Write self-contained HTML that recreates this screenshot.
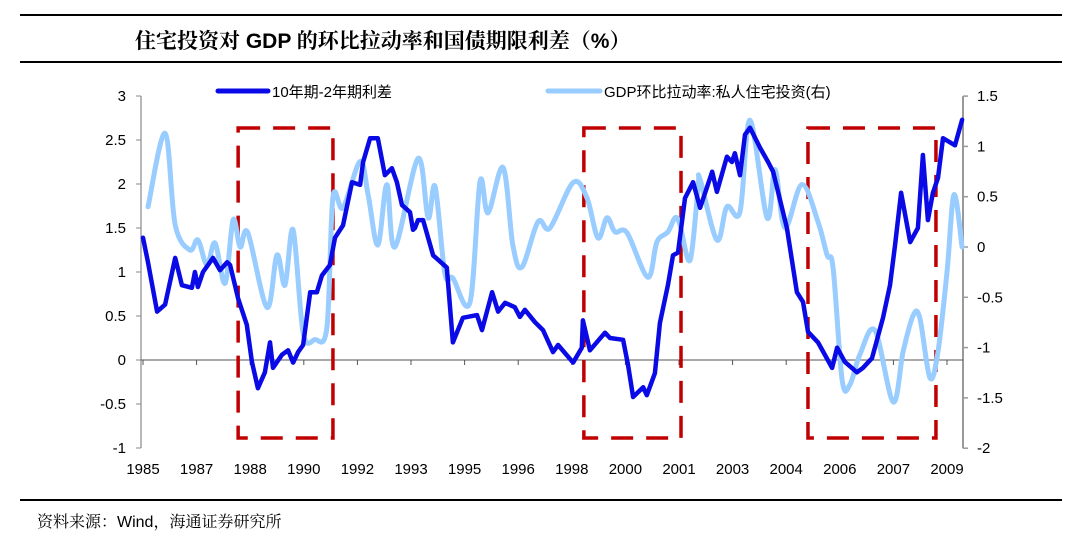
<!DOCTYPE html>
<html><head><meta charset="utf-8">
<style>
body{margin:0;background:#fff;width:1080px;height:545px;overflow:hidden;}
svg{display:block;font-family:"Liberation Sans","Noto Sans CJK SC",sans-serif;}
</style></head>
<body>
<svg id="chart" width="1080" height="545">
  <line x1="20" y1="15" x2="1062" y2="15" stroke="#000" stroke-width="2"/>
  <text x="135" y="48" font-size="21" font-weight="bold" style="font-family:'Liberation Sans','Noto Serif CJK SC',serif">住宅投资对 GDP 的环比拉动率和国债期限利差（%）</text>
  <line x1="20" y1="62" x2="1062" y2="62" stroke="#000" stroke-width="2"/>
  <line x1="20" y1="500" x2="1062" y2="500" stroke="#000" stroke-width="2"/>
  <text x="37" y="527" font-size="16" style="font-family:'Liberation Sans','Noto Serif CJK SC',serif">资料来源：Wind，海通证券研究所</text>
  <g id="axes"></g>
  <g id="boxes"></g>
  <g id="series"></g>
  <g id="legend"></g>
</svg>
<script>
const xTickLabels = ["1985","1987","1988","1990","1992","1993","1995","1996","1998","2000","2001","2003","2004","2006","2007","2009"];
const leftTicks = [3,2.5,2,1.5,1,0.5,0,-0.5,-1];
const rightTicks = [1.5,1,0.5,0,-0.5,-1,-1.5,-2];
const spreadT = [1985,1985.15,1985.42,1985.66,1985.96,1986.16,1986.46,1986.55,1986.64,1986.79,1987.09,1987.30,1987.51,1987.60,1987.84,1988.10,1988.25,1988.43,1988.64,1988.79,1988.88,1989.15,1989.33,1989.48,1989.63,1989.78,1989.99,1990.19,1990.34,1990.58,1990.73,1990.97,1991.24,1991.48,1991.57,1991.78,1992.01,1992.22,1992.43,1992.58,1992.73,1992.97,1993.06,1993.12,1993.21,1993.36,1993.66,1994.07,1994.25,1994.55,1994.97,1995.12,1995.42,1995.60,1995.81,1996.10,1996.25,1996.40,1996.70,1996.94,1997.24,1997.39,1997.84,1998.10,1998.13,1998.34,1998.79,1998.94,1999.33,1999.48,1999.63,1999.93,2000.04,2000.28,2000.43,2000.67,2000.82,2000.97,2001.18,2001.42,2001.63,2001.99,2002.13,2002.43,2002.58,2002.67,2002.82,2002.97,2003.12,2003.42,2003.66,2003.81,2004.22,2004.52,2004.70,2004.85,2005.15,2005.57,2005.72,2005.95,2006.31,2006.49,2006.76,2007.09,2007.30,2007.45,2007.63,2007.90,2008.13,2008.28,2008.43,2008.58,2008.73,2008.88,2009.24,2009.45];
const spreadV = [1.39,1.11,0.55,0.63,1.16,0.85,0.82,1.0,0.83,1.0,1.16,1.02,1.11,1.08,0.7,0.4,-0.02,-0.32,-0.14,0.2,-0.09,0.06,0.11,-0.03,0.09,0.17,0.77,0.77,0.96,1.08,1.39,1.53,2.02,1.99,2.25,2.52,2.52,2.1,2.18,2.02,1.76,1.68,1.48,1.5,1.59,1.59,1.19,1.05,0.2,0.48,0.51,0.34,0.77,0.55,0.65,0.6,0.49,0.57,0.43,0.34,0.09,0.17,-0.03,0.14,0.45,0.11,0.31,0.25,0.23,-0.06,-0.42,-0.31,-0.4,-0.15,0.42,0.85,1.19,1.22,1.84,2.02,1.73,2.14,1.91,2.31,2.25,2.35,2.1,2.56,2.64,2.41,2.25,2.14,1.5,0.77,0.66,0.32,0.2,-0.09,0.14,-0.02,-0.14,-0.09,0.02,0.48,0.85,1.31,1.9,1.34,1.5,2.33,1.59,1.9,2.07,2.52,2.44,2.73];
const gdpT = [1985.15,1985.66,1985.96,1986.40,1986.64,1986.91,1987.15,1987.45,1987.69,1987.90,1988.13,1988.70,1989.00,1989.24,1989.48,1989.78,1990.13,1990.49,1990.67,1990.97,1991.48,1991.72,1992.01,1992.28,1992.52,1993.21,1993.51,1993.72,1994.01,1994.25,1994.76,1995.06,1995.30,1995.75,1996.04,1996.31,1996.79,1997.15,1997.84,1998.25,1998.58,1998.85,1999.09,1999.45,2000.07,2000.34,2000.67,2000.88,2001.03,2001.33,2001.57,2001.63,2002.13,2002.43,2002.82,2003.12,2003.63,2003.87,2004.16,2004.67,2005.15,2005.42,2005.60,2005.87,2006.10,2006.40,2006.85,2007.39,2007.69,2007.99,2008.19,2008.49,2008.73,2009.00,2009.21,2009.45];
const gdpV = [0.40,1.13,0.22,-0.03,0.07,-0.18,0.04,-0.36,0.27,0,0.14,-0.6,-0.08,-0.38,0.17,-0.85,-0.92,-0.8,0.49,0.39,0.85,0.52,0.02,0.62,0,0.88,0.29,0.6,-0.26,-0.31,-0.55,0.65,0.34,0.79,0.02,-0.2,0.25,0.19,0.64,0.49,0.09,0.29,0.15,0.14,-0.3,0.05,0.15,0.29,0.22,-0.13,0.59,0.67,0.07,0.4,0.35,1.26,0.29,0.77,0.19,0.62,0.25,-0.08,-0.21,-1.32,-1.37,-1.07,-0.83,-1.54,-1.04,-0.68,-0.71,-1.3,-1.04,-0.25,0.52,0];
const boxYears = [[1987.84,1990.67],[1998.16,2001.06],[2004.85,2008.67]];

const NS="http://www.w3.org/2000/svg";
const X0=143, XSTEP=53.6;
function xS(t){return X0+(t-1985)/1.6*XSTEP;}
function yL(v){return 360-88*v;}
function yR(v){return 247-100.6*v;}
function mk(tag,attrs,parent){const e=document.createElementNS(NS,tag);for(const k in attrs)e.setAttribute(k,attrs[k]);parent.appendChild(e);return e;}

const axes=document.getElementById('axes');
let la=mk('line',{x1:141,y1:yL(3),x2:141,y2:yL(-1),stroke:'#888','stroke-width':1.2},axes);


leftTicks.forEach(v=>{
  let t=mk('line',{x1:136,y1:yL(v),x2:141,y2:yL(v),stroke:'#888','stroke-width':1},axes);
  
  
  let l=mk('text',{x:126,y:yL(v)+5,'font-size':15,'text-anchor':'end',fill:'#000'},axes);
  l.textContent=String(v);
  
  
});
let ra=mk('line',{x1:963,y1:yR(1.5),x2:963,y2:yR(-2),stroke:'#999','stroke-width':2},axes);


rightTicks.forEach(v=>{
  let t=mk('line',{x1:963,y1:yR(v),x2:968,y2:yR(v),stroke:'#999','stroke-width':1.5},axes);
  
  
  let l=mk('text',{x:977,y:yR(v)+5,'font-size':15,fill:'#000'},axes);
  l.textContent=String(v);
  
  
});
let za=mk('line',{x1:141,y1:yL(0),x2:963,y2:yL(0),stroke:'#555','stroke-width':1},axes);


xTickLabels.forEach((s,i)=>{
  const x=X0+i*XSTEP;
  let t=mk('line',{x1:x,y1:yL(0),x2:x,y2:yL(0)+5,stroke:'#555','stroke-width':1},axes);
  
  
  let l=mk('text',{x:x,y:474,'font-size':15,'text-anchor':'middle',fill:'#000'},axes);
  l.textContent=s;
  
  
});

const boxes=document.getElementById('boxes');
boxYears.forEach(b=>{
  let r=mk('rect',{x:xS(b[0]),y:128,width:xS(b[1])-xS(b[0]),height:310,fill:'none',stroke:'#c00000','stroke-width':3.5,'stroke-dasharray':'22 13'},boxes);
  
  
});

const series=document.getElementById('series');
function smooth(pts){
  let d='M'+pts[0][0]+','+pts[0][1];
  for(let i=0;i<pts.length-1;i++){
    const p0=pts[Math.max(0,i-1)],p1=pts[i],p2=pts[i+1],p3=pts[Math.min(pts.length-1,i+2)];
    const c1=[p1[0]+(p2[0]-p0[0])/6,p1[1]+(p2[1]-p0[1])/6];
    const c2=[p2[0]-(p3[0]-p1[0])/6,p2[1]-(p3[1]-p1[1])/6];
    d+=' C'+c1[0].toFixed(1)+','+c1[1].toFixed(1)+' '+c2[0].toFixed(1)+','+c2[1].toFixed(1)+' '+p2[0].toFixed(1)+','+p2[1].toFixed(1);
  }
  return d;
}
const gpts=gdpT.map((t,i)=>[xS(t),yR(gdpV[i])]);
let gp=mk('path',{d:smooth(gpts),fill:'none',stroke:'#99ccff','stroke-width':5,'stroke-linejoin':'round','stroke-linecap':'round'},series);


const spts=spreadT.map((t,i)=>xS(t).toFixed(1)+','+yL(spreadV[i]).toFixed(1));
let sp=mk('polyline',{points:spts.join(' '),fill:'none',stroke:'#0a0ae6','stroke-width':4.5,'stroke-linejoin':'round','stroke-linecap':'round'},series);



const lg=document.getElementById('legend');
let l1=mk('line',{x1:218,y1:91,x2:268,y2:91,stroke:'#0a0ae6','stroke-width':5,'stroke-linecap':'round'},lg);


let t1=mk('text',{x:272,y:97,'font-size':15},lg);
t1.textContent='10年期-2年期利差';


let l2=mk('line',{x1:548,y1:91,x2:600,y2:91,stroke:'#99ccff','stroke-width':5,'stroke-linecap':'round'},lg);


let t2=mk('text',{x:604,y:97,'font-size':15},lg);
t2.textContent='GDP环比拉动率:私人住宅投资(右)';


</script>
</body></html>
